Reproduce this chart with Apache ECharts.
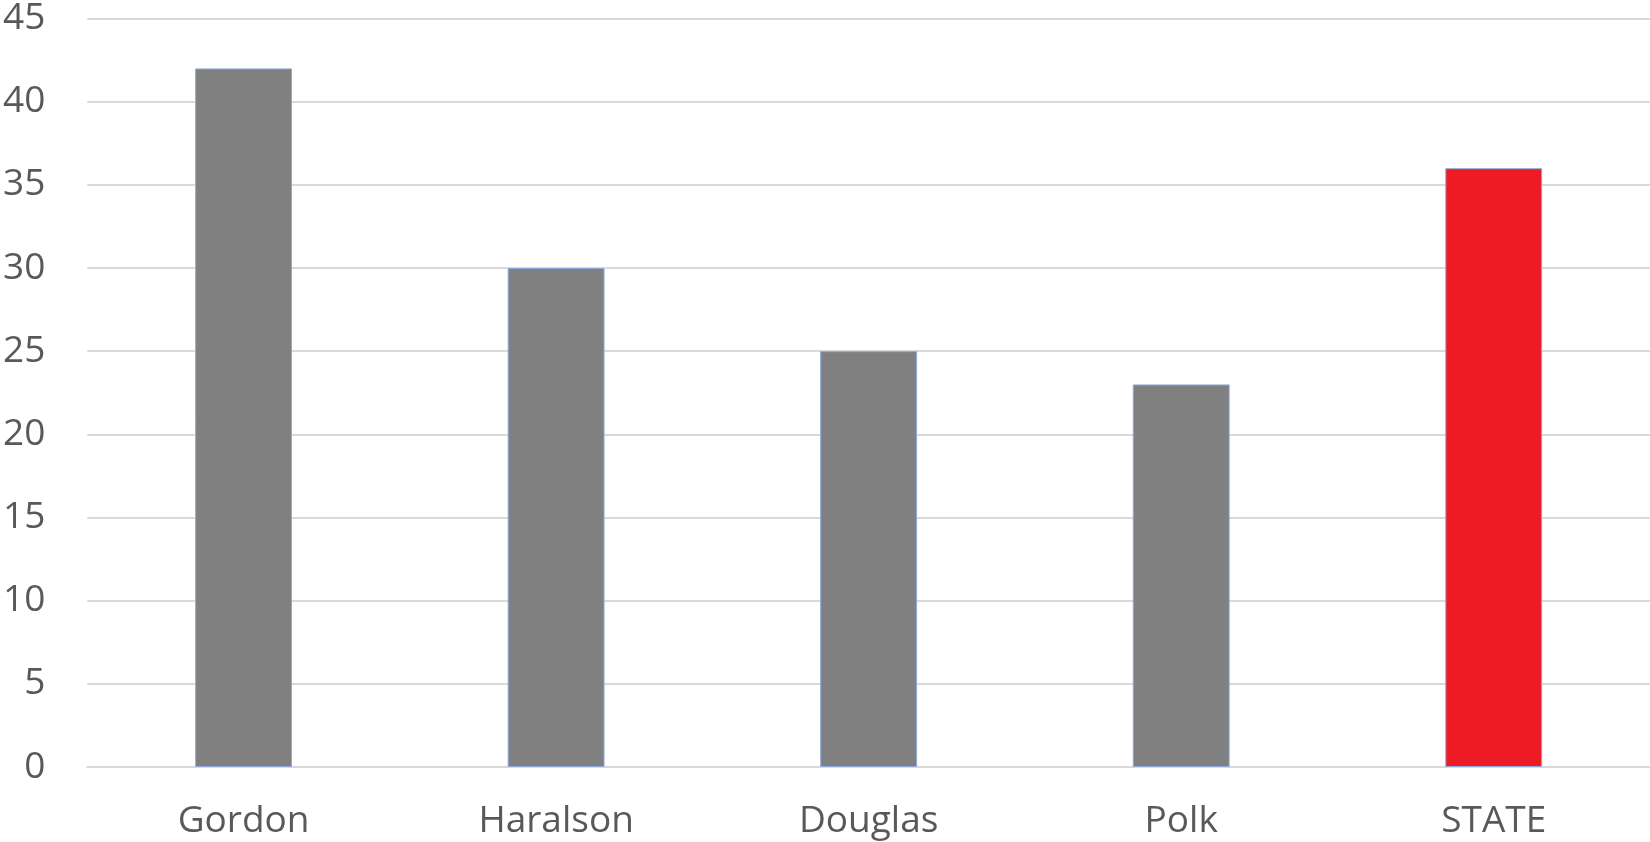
<!DOCTYPE html>
<html><head><meta charset="utf-8">
<script src="https://cdn.jsdelivr.net/npm/echarts@6/dist/echarts.min.js"></script>
<style>html,body{margin:0;padding:0;background:#fff}#c{width:1650px;height:842px}</style>
</head><body><div id="c"></div>
<script>
const categories = ['Gordon', 'Haralson', 'Douglas', 'Polk', 'STATE'];
const values = [42, 30, 25, 23, 36];
const barColors = ['#808080', '#808080', '#808080', '#808080', '#ED1C24'];

const chart = echarts.init(document.getElementById('c'));
chart.setOption({
  animation: false,
  grid: { left: 87, right: 0, top: 17, bottom: 75, containLabel: false },
  xAxis: {
    type: 'category', data: categories,
    axisLine: { show: true, lineStyle: { color: '#d9d9d9', width: 2 } },
    axisTick: { show: false },
    axisLabel: { color: '#595959', fontSize: 37, fontFamily: 'Open Sans', margin: 36 }
  },
  yAxis: {
    type: 'value', min: 0, max: 45, interval: 5,
    axisLine: { show: false }, axisTick: { show: false },
    splitLine: { lineStyle: { color: '#d9d9d9', width: 2 } },
    axisLabel: { color: '#595959', fontSize: 37, fontFamily: 'Open Sans', margin: 42 }
  },
  series: [{
    type: 'bar', barWidth: '31%',
    data: values.map((v, i) => ({ value: v, itemStyle: { color: barColors[i] } })),
    itemStyle: { borderColor: '#8FAADC', borderWidth: 1 }
  }]
});
</script></body></html>
